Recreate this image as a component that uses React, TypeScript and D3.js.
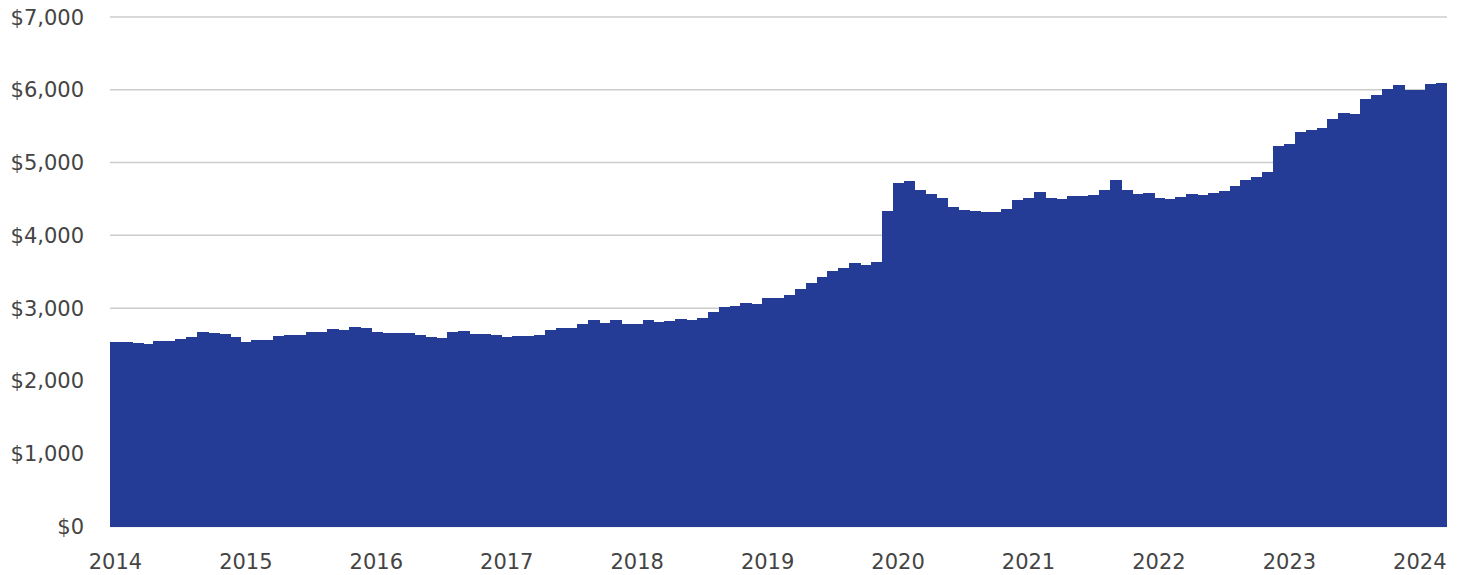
import React, { useMemo } from 'react';
import * as d3 from 'd3';

// Monthly values, Jan 2014 .. Mar 2024 (one row per year)
const monthlyValues: number[] = [
  2535, 2539, 2525, 2503, 2544, 2548, 2580, 2608, 2677, 2654, 2645, 2599, // 2014
  2530, 2558, 2558, 2613, 2631, 2626, 2668, 2677, 2713, 2695, 2736, 2723, // 2015
  2670, 2658, 2658, 2663, 2635, 2599, 2590, 2672, 2681, 2640, 2640, 2626, // 2016
  2603, 2617, 2612, 2626, 2704, 2731, 2722, 2782, 2832, 2796, 2841, 2786, // 2017
  2786, 2841, 2807, 2818, 2855, 2841, 2869, 2951, 3011, 3025, 3066, 3057, // 2018
  3135, 3140, 3185, 3267, 3349, 3428, 3506, 3551, 3620, 3597, 3634, 4328, // 2019
  4723, 4751, 4618, 4563, 4509, 4389, 4344, 4330, 4316, 4316, 4357, 4485, // 2020
  4513, 4591, 4517, 4495, 4536, 4536, 4550, 4623, 4756, 4618, 4575, 4582, // 2021
  4509, 4504, 4522, 4563, 4554, 4577, 4609, 4673, 4765, 4801, 4866, 5223, // 2022
  5251, 5418, 5447, 5479, 5603, 5681, 5663, 5869, 5924, 6006, 6065, 5993, // 2023
  5993, 6079, 6093, // 2024
];

const yTicks: number[] = [0, 1000, 2000, 3000, 4000, 5000, 6000, 7000];
const yearLabels: string[] = ['2014', '2015', '2016', '2017', '2018', '2019', '2020', '2021', '2022', '2023', '2024'];

const App: React.FC = () => {
  const width = 1466;
  const height = 575;
  const margin = { top: 17, right: 19, bottom: 48.5, left: 110 };
  const innerWidth = width - margin.left - margin.right;
  const innerHeight = height - margin.top - margin.bottom;

  const months = useMemo(
    () => monthlyValues.map((_, i) => d3.timeFormat('%Y-%m')(d3.timeMonth.offset(new Date(2014, 0, 1), i))),
    []
  );

  const xScale = useMemo(
    () => d3.scaleBand<string>().domain(months).range([0, innerWidth]).padding(0),
    [months, innerWidth]
  );
  const yScale = useMemo(
    () => d3.scaleLinear().domain([0, 7000]).range([innerHeight, 0]),
    [innerHeight]
  );

  const fmt = (v: number) => '$' + d3.format(',')(v);
  const font = '"DejaVu Sans", sans-serif';

  return (
    <svg
      width={width}
      height={height}
      style={{ position: 'absolute', left: 0, top: 0, display: 'block', background: '#fff' }}
    >
      <g transform={`translate(${margin.left}, ${margin.top})`}>
        {/* Grid lines */}
        {yTicks.map(t => (
          <line
            key={`grid-${t}`}
            x1={0}
            x2={innerWidth}
            y1={yScale(t)}
            y2={yScale(t)}
            stroke="#cccccc"
            strokeWidth={1.5}
          />
        ))}

        {/* Bars */}
        <g shapeRendering="crispEdges">
          {monthlyValues.map((v, i) => (
            <rect
              key={months[i]}
              x={xScale(months[i])!}
              y={yScale(v)}
              width={xScale.bandwidth() + (i < monthlyValues.length - 1 ? 1 : 0)}
              height={innerHeight - yScale(v)}
              fill="#243c96"
            />
          ))}
        </g>

        {/* Y-axis labels */}
        {yTicks.map(t => (
          <text
            key={`y-${t}`}
            x={-26}
            y={yScale(t)}
            dy="0.36em"
            textAnchor="end"
            fontFamily={font}
            fontSize={21}
            fill="#444444"
          >
            {fmt(t)}
          </text>
        ))}

        {/* X-axis labels, centered on each January */}
        {yearLabels.map(y => {
          const key = `${y}-01`;
          const x = xScale(key)! + xScale.bandwidth() / 2;
          return (
            <text
              key={`x-${y}`}
              x={x}
              y={innerHeight + 35}
              dy="0.36em"
              textAnchor="middle"
              fontFamily={font}
              fontSize={21}
              fill="#444444"
            >
              {y}
            </text>
          );
        })}
      </g>
    </svg>
  );
};

export default App;
